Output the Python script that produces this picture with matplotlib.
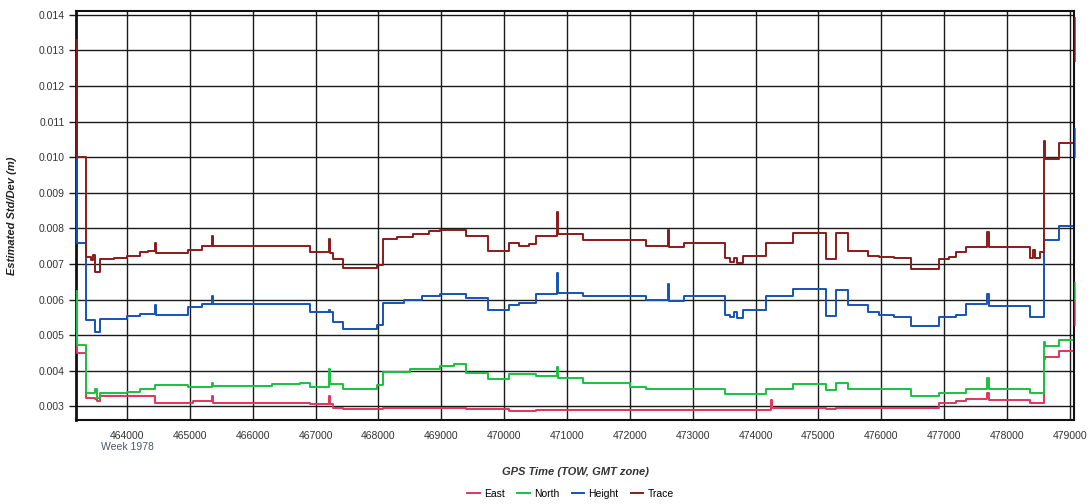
import matplotlib
matplotlib.use("Agg")
import matplotlib.pyplot as plt
import numpy as np

plt.rcParams['font.family'] = ['Liberation Sans', 'DejaVu Sans']

# breakpoints (GPS time of week) and values, drawn as steps
trace_t = [463189, 463200, 463348, 463420, 463460, 463491, 463571, 463800, 464000, 464207,
           464330, 464445, 464465, 464970, 465200, 465351, 465371, 466909, 467211, 467231,
           467275, 467434, 467975, 468070, 468300, 468550, 468800, 468976, 469390, 469739,
           470073, 470232, 470400, 470502, 470836, 470856, 471250, 472251, 472601, 472621,
           472855, 473507, 473600, 473650, 473700, 473793, 474159, 474588, 475113, 475272,
           475463, 475781, 475971, 476200, 476480, 476925, 477084, 477196, 477355, 477688,
           477708, 478372, 478420, 478440, 478520, 478595, 478611, 478833, 479040]
trace_v = [0.0133, 0.0100, 0.00721, 0.00712, 0.00725, 0.00679, 0.00715, 0.00718, 0.00724, 0.00733,
           0.00736, 0.0076, 0.0073, 0.0074, 0.0075, 0.0078, 0.00752, 0.00735, 0.0077, 0.0073,
           0.00713, 0.00688, 0.00696, 0.0077, 0.00777, 0.00785, 0.00792, 0.00797, 0.00778, 0.00738,
           0.00758, 0.0075, 0.00755, 0.0078, 0.00845, 0.00785, 0.00767, 0.00752, 0.00797, 0.00747,
           0.0076, 0.00718, 0.00705, 0.00718, 0.00702, 0.00724, 0.0076, 0.00786, 0.00713, 0.00786,
           0.00738, 0.00724, 0.0072, 0.00716, 0.00685, 0.00713, 0.0072, 0.00733, 0.00748, 0.00791,
           0.00748, 0.00718, 0.0074, 0.00718, 0.00735, 0.01045, 0.00994, 0.0104, 0.0104]

height_t = [463189, 463200, 463348, 463491, 463571, 464000, 464207, 464445, 464465, 464970,
            465200, 465351, 465371, 466909, 467211, 467231, 467275, 467434, 467975, 468070,
            468400, 468700, 468976, 469390, 469739, 470073, 470232, 470502, 470836, 470856,
            471250, 472251, 472601, 472621, 472855, 473507, 473600, 473650, 473700, 473793,
            474159, 474588, 475113, 475272, 475463, 475781, 475971, 476200, 476480, 476925,
            477196, 477355, 477688, 477708, 478372, 478595, 478833, 479040]
height_v = [0.0101, 0.00758, 0.00544, 0.00508, 0.00545, 0.00553, 0.0056, 0.00584, 0.00556, 0.0058,
            0.00587, 0.00609, 0.00589, 0.00564, 0.00572, 0.00564, 0.00536, 0.00519, 0.0053, 0.00592,
            0.006, 0.00609, 0.00615, 0.00606, 0.0057, 0.00584, 0.0059, 0.00615, 0.00674, 0.0062,
            0.00609, 0.006, 0.00643, 0.00595, 0.00609, 0.00558, 0.0055, 0.00565, 0.00548, 0.00572,
            0.00609, 0.00631, 0.00555, 0.00628, 0.00584, 0.00564, 0.00558, 0.00552, 0.00525, 0.0055,
            0.00558, 0.00589, 0.00615, 0.00581, 0.0055, 0.00769, 0.00806, 0.00806]

north_t = [463189, 463200, 463348, 463491, 463523, 463571, 464000, 464207, 464445, 464970,
           465351, 465371, 466300, 466750, 466909, 467211, 467231, 467434, 467975, 468070,
           468500, 468976, 469200, 469390, 469739, 470073, 470502, 470836, 470856, 471250,
           471997, 472251, 473507, 474159, 474588, 475113, 475272, 475463, 476480, 476925,
           477355, 477688, 477708, 478372, 478595, 478611, 478833, 479040]
north_v = [0.00623, 0.00474, 0.00338, 0.00348, 0.00325, 0.00337, 0.00342, 0.00348, 0.00359, 0.00356,
           0.00365, 0.00358, 0.00362, 0.00365, 0.00356, 0.00404, 0.00362, 0.00348, 0.0036, 0.00396,
           0.00405, 0.00413, 0.00418, 0.00395, 0.00376, 0.0039, 0.00385, 0.0041, 0.00381, 0.00365,
           0.00356, 0.00348, 0.00334, 0.00348, 0.00362, 0.00345, 0.00365, 0.00348, 0.00329, 0.00339,
           0.00348, 0.00379, 0.0035, 0.00339, 0.0048, 0.00469, 0.00488, 0.00488]

east_t = [463189, 463200, 463348, 463491, 463523, 463571, 464445, 465049, 465351, 465371,
          466909, 467211, 467231, 467275, 467434, 468070, 469390, 470073, 470502, 473507,
          474238, 474258, 474588, 475113, 475272, 476925, 477196, 477355, 477688, 477708,
          478372, 478595, 478611, 478833, 479040]
east_v = [0.00595, 0.00449, 0.00325, 0.0032, 0.00314, 0.00328, 0.00311, 0.00314, 0.0033, 0.00311,
          0.00306, 0.00328, 0.00306, 0.00297, 0.00292, 0.00297, 0.00292, 0.00286, 0.0029, 0.00289,
          0.00317, 0.00297, 0.00297, 0.00292, 0.00297, 0.00311, 0.00316, 0.0032, 0.00337, 0.00318,
          0.00311, 0.00432, 0.00438, 0.00455, 0.00455]

# last epochs, drawn at the right edge
tail_t = 479075
trace_tail = [0.0127, 0.0139]
height_tail = [0.0100, 0.0108]
north_tail = [0.0060, 0.00648]
east_tail = [0.0053, 0.0060]

series = [("East", east_t, east_v, east_tail, "#e0355f"),
          ("North", north_t, north_v, north_tail, "#19c140"),
          ("Height", height_t, height_v, height_tail, "#1453b8"),
          ("Trace", trace_t, trace_v, trace_tail, "#8b1a1a")]

fig = plt.figure(figsize=(10.91, 5.04), dpi=100)
ax = fig.add_axes([0.0697, 0.1667, 0.9147, 0.8115])

for name, t, v, tail, col in series:
    ax.plot(t, v, drawstyle='steps-post', color=col, lw=1.4, label=name, zorder=3)
    ax.plot([tail_t, tail_t], tail, color=col, lw=1.4, alpha=0.7, clip_on=False, zorder=3)

ax.set_xlim(463190, 479065)
ax.set_ylim(0.00262, 0.01411)
ax.set_xticks(np.arange(464000, 479001, 1000))
ax.set_yticks(np.arange(0.003, 0.01401, 0.001))
ax.yaxis.set_major_formatter(plt.FuncFormatter(lambda y, p: f"{y:.3f}"))
ax.grid(True, color="#1a1a1a", lw=1.0, zorder=1)
ax.tick_params(axis='y', length=5, width=1, color="#1a1a1a", labelsize=7.5, labelcolor="#333333", pad=3)
ax.tick_params(axis='x', length=0, labelsize=7.5, labelcolor="#333333", pad=8)
for s in ax.spines.values():
    s.set_linewidth(1.5)
    s.set_color("#111111")
ax.spines['left'].set_linewidth(2)

ax.text(464000, -0.065, "Week 1978", transform=ax.get_xaxis_transform(),
        ha='center', va='center', fontsize=7.5, color="#4a5666")
ax.set_xlabel("GPS Time (TOW, GMT zone)", fontsize=8, fontweight='bold', style='italic',
              color="#333333", labelpad=19)
ax.set_ylabel("Estimated Std/Dev (m)", fontsize=8, fontweight='bold', style='italic',
              color="#222222", labelpad=16)

fig.legend(loc='center', bbox_to_anchor=(0.523, 0.02), ncol=4, frameon=False,
           fontsize=7.5, handlelength=1.2, handletextpad=0.4, columnspacing=1.2)

fig.savefig("out.png", dpi=100)
